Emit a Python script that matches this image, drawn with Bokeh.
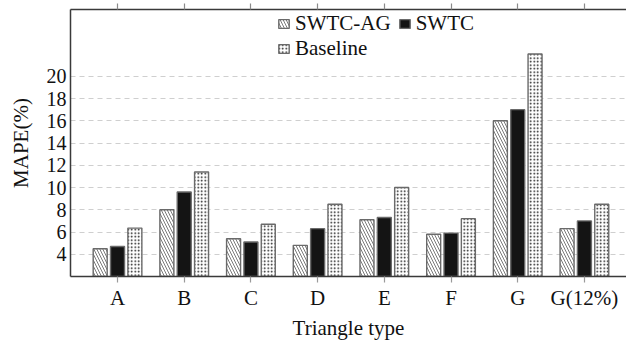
from bokeh.plotting import figure
from bokeh.models import Range1d, FixedTicker, LinearAxis, Legend, LegendItem
from bokeh.embed import file_html
from bokeh.resources import INLINE

# ---- data ----
categories = ["A", "B", "C", "D", "E", "F", "G", "G(12%)"]
swtc_ag = [4.5, 8.0, 5.4, 4.8, 7.1, 5.8, 16.0, 6.3]
swtc = [4.7, 9.6, 5.1, 6.3, 7.3, 5.9, 17.0, 7.0]
baseline = [6.35, 11.4, 6.7, 8.5, 10.0, 7.2, 22.0, 8.5]
series_names = ["SWTC-AG", "SWTC", "Baseline"]
y_ticks = [4, 6, 8, 10, 12, 14, 16, 18, 20]

FONT = "Liberation Serif"
FS = "21px"
FS_NUM = "20px"

idx = list(range(len(categories)))
p = figure(width=626, height=343, output_backend="svg", toolbar_location=None,
           x_range=Range1d(-0.705, 7.631), y_range=Range1d(2, 26),
           min_border_left=70, min_border_right=0, min_border_top=9, min_border_bottom=67)
p.outline_line_color = None
p.background_fill_color = "white"

bar_w = 0.21
off = 0.26
common = dict(bottom=2, width=bar_w, line_color="#6a6a6a", line_width=1.4)
r1 = p.vbar(x=[i - off for i in idx], top=swtc_ag, fill_color="white",
            hatch_pattern="\\", hatch_color="#7a7a7a", hatch_scale=6, hatch_weight=1, **common)
r2 = p.vbar(x=idx, top=swtc, fill_color="#141414", **common)
r3 = p.vbar(x=[i + off for i in idx], top=baseline, fill_color="white",
            hatch_pattern=".", hatch_color="#111111", hatch_scale=3.5, hatch_weight=2, **common)

# grid
p.xgrid.grid_line_color = None
p.ygrid.grid_line_color = "#cfcfcf"
p.ygrid.grid_line_dash = "5 4"
p.ygrid.grid_line_width = 1.2
p.ygrid.ticker = FixedTicker(ticks=y_ticks)

# axes
p.yaxis.ticker = FixedTicker(ticks=y_ticks)
p.yaxis.axis_label = "MAPE(%)"
p.yaxis.major_tick_in = 0
p.yaxis.major_tick_out = 0
p.yaxis.minor_tick_line_color = None
p.yaxis.axis_line_color = "#3a3a3a"
p.yaxis.axis_line_width = 1.5
p.yaxis.major_label_standoff = 4
p.yaxis.axis_label_standoff = 11

p.xaxis.ticker = FixedTicker(ticks=idx)
p.xaxis.major_label_overrides = {i: c for i, c in zip(idx, categories)}
p.xaxis.axis_label = "Triangle type"
p.xaxis.major_tick_in = 0
p.xaxis.major_tick_out = 6
p.xaxis.major_tick_line_color = "#9a9a9a"
p.xaxis.major_tick_line_width = 1.2
p.xaxis.minor_tick_line_color = None
p.xaxis.axis_line_color = "#3a3a3a"
p.xaxis.axis_line_width = 1.5
p.xaxis.major_label_standoff = 3
p.xaxis.axis_label_standoff = 3

for ax in (p.xaxis[0], p.yaxis[0]):
    ax.major_label_text_font = FONT
    ax.major_label_text_color = "#111111"
    ax.axis_label_text_font = FONT
    ax.axis_label_text_font_size = FS
    ax.axis_label_text_font_style = "normal"
    ax.axis_label_text_color = "#111111"
p.xaxis.major_label_text_font_size = FS
p.yaxis.major_label_text_font_size = FS_NUM

top_ax = LinearAxis(ticker=FixedTicker(ticks=idx))
top_ax.major_label_text_font_size = "1px"
top_ax.major_label_text_color = None
top_ax.major_label_standoff = 0
top_ax.major_tick_in = 0
top_ax.major_tick_out = 6
top_ax.major_tick_line_color = "#8a8a8a"
top_ax.major_tick_line_width = 1.2
top_ax.minor_tick_line_color = None
top_ax.axis_line_color = "#3a3a3a"
top_ax.axis_line_width = 1.5
p.add_layout(top_ax, "above")

leg_style = dict(label_text_font=FONT, label_text_font_size=FS, label_text_color="#111111",
                 label_text_font_style="normal", glyph_width=13, glyph_height=11,
                 label_standoff=5, padding=0, margin=0, border_line_color=None,
                 background_fill_alpha=0)
items = [LegendItem(label=n, renderers=[r]) for n, r in zip(series_names, [r1, r2, r3])]
legend1 = Legend(items=items[:2], orientation="horizontal", spacing=7,
                 location=(207, 240), **leg_style)
legend2 = Legend(items=items[2:], orientation="horizontal", spacing=0,
                 location=(207, 215), **leg_style)
p.add_layout(legend1, "center")
p.add_layout(legend2, "center")

open("out.html", "w").write(file_html(p, INLINE))
